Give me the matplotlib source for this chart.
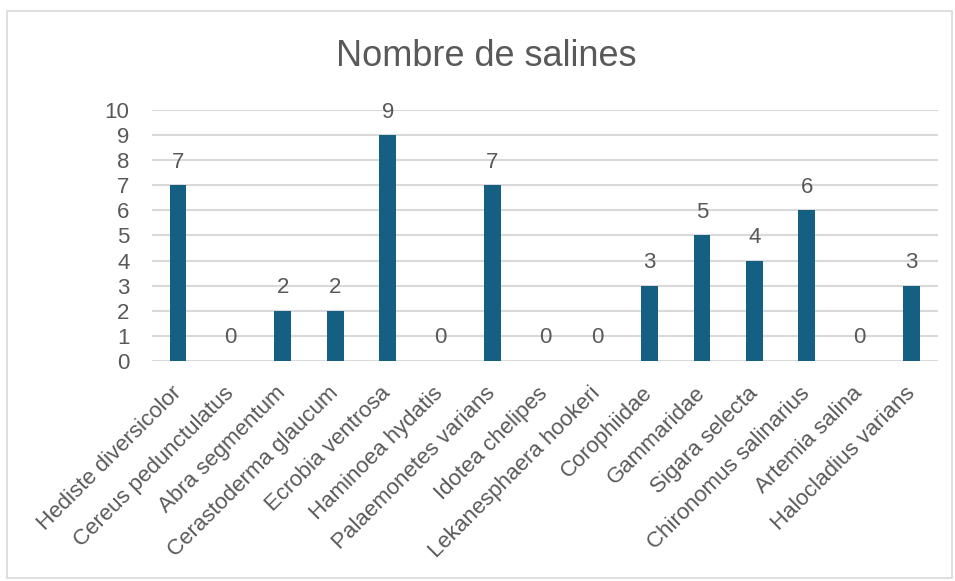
import matplotlib.pyplot as plt
from matplotlib.patches import Rectangle

# data
species = ["Hediste diversicolor", "Cereus pedunctulatus", "Abra segmentum",
           "Cerastoderma glaucum", "Ecrobia ventrosa", "Haminoea hydatis",
           "Palaemonetes varians", "Idotea chelipes", "Lekanesphaera hookeri",
           "Corophiidae", "Gammaridae", "Sigara selecta",
           "Chironomus salinarius", "Artemia salina", "Halocladius varians"]
counts = [7, 0, 2, 2, 9, 0, 7, 0, 0, 3, 5, 4, 6, 0, 3]
yticks = list(range(0, 11))

plt.rcParams['font.family'] = ['Liberation Sans', 'DejaVu Sans']
grey = '#595959'

fig = plt.figure(figsize=(9.55, 5.81), dpi=100)
ax = fig.add_axes([0.159, 0.3787, 0.823, 0.432])

# chart border
fig.patches.append(Rectangle((7 / 955, 3 / 581), 945 / 955, 567 / 581,
                             transform=fig.transFigure, fill=False,
                             edgecolor='#D9D9D9', lw=1.2))

x = range(len(species))
bars = ax.bar(x, counts, width=0.32, color='#156082', zorder=3)
for xi, c in zip(x, counts):
    ax.text(xi, c + 0.5, str(c), ha='center', va='bottom',
            fontsize=16, color=grey)

ax.set_ylim(0, 10)
ax.set_xlim(-0.5, len(species) - 0.5)
ax.set_yticks(yticks)
ax.yaxis.grid(True, color='#D9D9D9', lw=1.5, zorder=0)
for s in ax.spines.values():
    s.set_visible(False)
ax.tick_params(axis='both', length=0, labelsize=16, labelcolor=grey)
ax.tick_params(axis='y', pad=16)
ax.set_xticks(list(x))
ax.set_xticklabels(species, rotation=45, ha='right', va='center',
                   rotation_mode='anchor')
ax.tick_params(axis='x', pad=21)

fig.text(0.509, 0.902, "Nombre de salines", ha='center', va='center',
         fontsize=26, color=grey)

fig.savefig('out.png', dpi=100)
